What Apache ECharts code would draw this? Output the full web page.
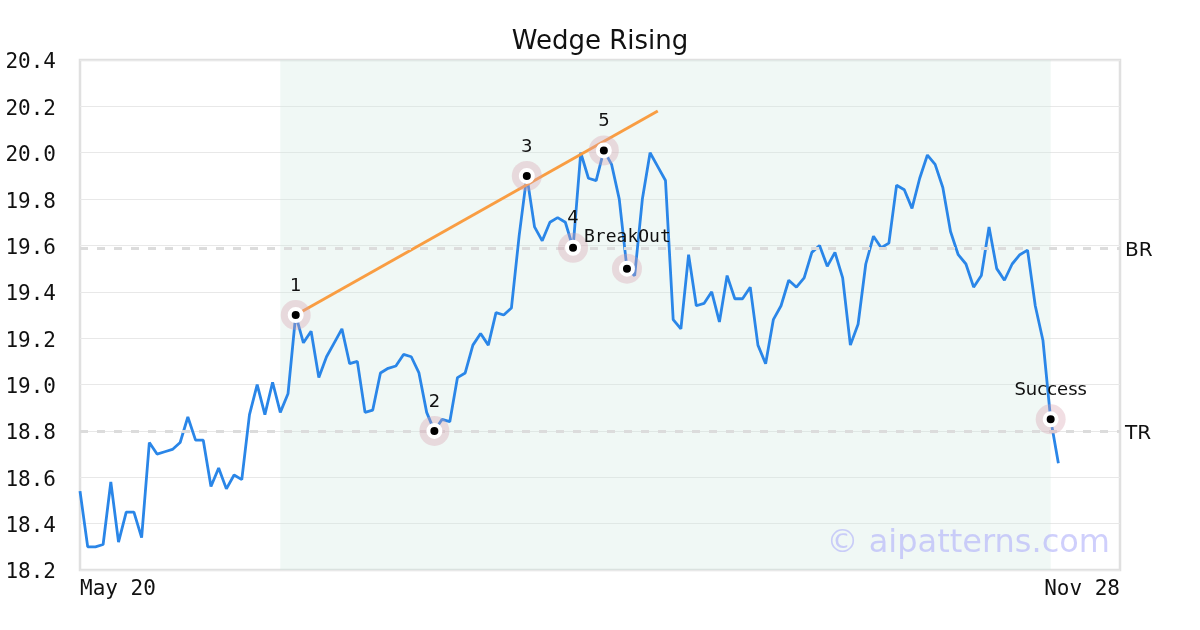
<!DOCTYPE html>
<html>
<head>
<meta charset="utf-8">
<script src="https://cdn.jsdelivr.net/npm/echarts@6/dist/echarts.min.js"></script>
<style>
html,body{margin:0;padding:0;background:#fff;}
#chart{width:1200px;height:630px;}
</style>
</head>
<body>
<div id="chart"></div>
<script>
// ---- data ----
const xAxisLabels = ['May 20', 'Nov 28'];
const xMaxIndex = 135;
const prices = [
  18.54, 18.30, 18.30, 18.31, 18.58, 18.32, 18.45, 18.45, 18.34, 18.75,
  18.70, 18.71, 18.72, 18.75, 18.86, 18.76, 18.76, 18.56, 18.64, 18.55,
  18.61, 18.59, 18.87, 19.00, 18.87, 19.01, 18.88, 18.96, 19.30, 19.18,
  19.23, 19.03, 19.12, 19.18, 19.24, 19.09, 19.10, 18.88, 18.89, 19.05,
  19.07, 19.08, 19.13, 19.12, 19.05, 18.88, 18.80, 18.85, 18.84, 19.03,
  19.05, 19.17, 19.22, 19.17, 19.31, 19.30, 19.33, 19.64, 19.90, 19.68,
  19.62, 19.70, 19.72, 19.70, 19.59, 20.00, 19.89, 19.88, 20.01, 19.95,
  19.80, 19.50, 19.47, 19.80, 20.00, 19.94, 19.88, 19.28, 19.24, 19.56,
  19.34, 19.35, 19.40, 19.27, 19.47, 19.37, 19.37, 19.42, 19.17, 19.09,
  19.28, 19.34, 19.45, 19.42, 19.46, 19.57, 19.60, 19.51, 19.57, 19.46,
  19.17, 19.26, 19.52, 19.64, 19.59, 19.61, 19.86, 19.84, 19.76, 19.89,
  19.99, 19.95, 19.85, 19.66, 19.56, 19.52, 19.42, 19.47, 19.68, 19.50,
  19.45, 19.52, 19.56, 19.58, 19.34, 19.19, 18.85, 18.66
];
const markerIdx = [28, 46, 58, 64, 68, 71, 126];
const markerVal = [19.30, 18.80, 19.90, 19.59, 20.01, 19.50, 18.85];
const markerText = ['1', '2', '3', '4', '5', '', 'Success'];
const breakoutText = 'BreakOut';
const breakoutAt = 3; // index into markers
const wedgeIdx = [28, 75];
const wedgeVal = [19.30, 20.18];
const levelNames = ['BR', 'TR'];
const levelVals = [19.585, 18.795];
const patternRange = [26, 126];
const yTicks = { min: 18.2, max: 20.4, step: 0.2 };

// ---- chart ----
const chart = echarts.init(document.getElementById('chart'));
const lineData = prices.map((v, i) => [i, v]);
const labelData = markerIdx.map((x, i) => ({
  value: [x, markerVal[i]],
  label: { show: true, position: 'top', distance: 14, formatter: markerText[i],
           fontFamily: 'DejaVu Sans', fontSize: 18, color: '#111', opacity: 1 }
}));
labelData.push({
  value: [markerIdx[breakoutAt], markerVal[breakoutAt]],
  label: { show: true, position: 'right', distance: 5, offset: [0, -10], formatter: breakoutText,
           fontFamily: 'DejaVu Sans Mono', fontSize: 18, color: '#111', opacity: 1 }
});

const option = {
  animation: false,
  backgroundColor: '#fff',
  title: {
    text: 'Wedge Rising', left: 'center', top: 24,
    textStyle: { fontFamily: 'DejaVu Sans', fontSize: 26, fontWeight: 'normal', color: '#111' }
  },
  grid: { left: 80, right: 80, top: 60, bottom: 60, show: true, borderColor: '#e0e0e0', borderWidth: 2.5, backgroundColor: 'transparent' },
  xAxis: {
    type: 'value', min: 0, max: xMaxIndex, interval: xMaxIndex,
    axisLine: { show: false }, axisTick: { show: false }, splitLine: { show: false },
    axisLabel: {
      margin: 9, fontFamily: 'DejaVu Sans Mono', fontSize: 21, color: '#111',
      alignMinLabel: 'left', alignMaxLabel: 'right',
      formatter: v => (v === 0 ? xAxisLabels[0] : (v === xMaxIndex ? xAxisLabels[1] : ''))
    }
  },
  yAxis: {
    type: 'value', min: yTicks.min, max: yTicks.max, interval: yTicks.step,
    axisLine: { show: false }, axisTick: { show: false },
    splitLine: { lineStyle: { color: '#e8e8e8', width: 1 } },
    axisLabel: { margin: 24, fontFamily: 'DejaVu Sans Mono', fontSize: 21, color: '#111',
                 verticalAlign: 'top', lineHeight: 6,
                 formatter: v => v.toFixed(1) }
  },
  graphic: [{
    type: 'text', right: 90, top: 528, z: 100,
    style: { text: '\u00a9 aipatterns.com', font: '32px "DejaVu Sans"', fill: 'rgba(175,175,250,0.6)' }
  }],
  series: [
    {
      type: 'line', data: lineData, showSymbol: false, z: 3,
      lineStyle: { color: '#2a86e8', width: 2.8 },
      markArea: {
        silent: true,
        itemStyle: { color: 'rgba(205,232,222,0.3)' },
        data: [[{ xAxis: patternRange[0] }, { xAxis: patternRange[1] }]]
      },
      markLine: {
        silent: true, symbol: 'none',
        lineStyle: { color: '#dcdcdc', width: 3, type: [8, 9] },
        label: { position: 'end', distance: 5, fontFamily: 'DejaVu Sans', fontSize: 20, color: '#111',
                 verticalAlign: 'top', lineHeight: 6, formatter: p => p.name },
        data: levelVals.map((v, i) => ({ yAxis: v, name: levelNames[i] }))
      }
    },
    {
      type: 'line', data: wedgeIdx.map((x, i) => [x, wedgeVal[i]]), showSymbol: false, z: 4,
      lineStyle: { color: '#f99d42', width: 3 }
    },
    {
      type: 'scatter', data: markerIdx.map((x, i) => [x, markerVal[i]]), z: 5,
      symbolSize: 30, itemStyle: { color: 'rgba(215,160,175,0.35)', opacity: 1 }
    },
    {
      type: 'scatter', data: markerIdx.map((x, i) => [x, markerVal[i]]), z: 6,
      symbolSize: 12, itemStyle: { color: '#000', borderColor: '#fff', borderWidth: 4, opacity: 1 }
    },
    {
      type: 'scatter', data: labelData, z: 7, symbolSize: 12,
      itemStyle: { color: 'rgba(0,0,0,0)', opacity: 1 }
    }
  ]
};
chart.setOption(option);
</script>
</body>
</html>
